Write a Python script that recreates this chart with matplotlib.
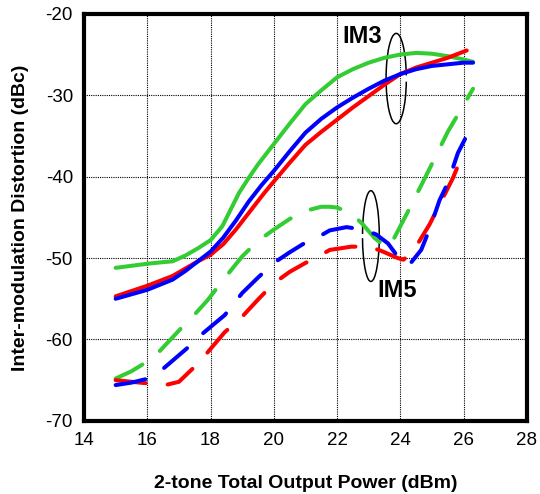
"""
Inter-modulation distortion (IM3 / IM5) versus 2-tone total output power.
Writes out.png (540x494).
"""

import matplotlib.pyplot as plt
from matplotlib.patches import Arc

plt.rcParams["font.family"] = ["Liberation Sans", "DejaVu Sans"]
plt.rcParams["axes.unicode_minus"] = False

# ---------------------------------------------------------------------------
# data (x in dBm, y in dBc)
# ---------------------------------------------------------------------------
# IM3 (solid)
im3_green_x = [15, 16, 16.5, 16.8, 17.2, 17.6, 18, 18.37, 18.5, 18.9, 19.2,
               19.5, 20, 20.5, 21, 21.5, 22, 22.5, 23, 23.5, 24, 24.5, 25,
               25.5, 26, 26.3]
im3_green = [-51.2, -50.7, -50.5, -50.4, -49.7, -48.8, -47.8, -46.1, -45.1,
             -42.0, -40.2, -38.5, -36.0, -33.5, -31.1, -29.4, -27.8, -26.8,
             -26.0, -25.4, -25.0, -24.8, -24.9, -25.2, -25.6, -25.9]

im3_blue_x = [15, 16, 16.8, 17.2, 17.6, 18, 18.4, 18.8, 19.2, 19.6, 20, 20.5,
              21, 21.5, 22, 22.5, 23, 23.5, 24, 24.5, 25, 25.5, 26, 26.3]
im3_blue = [-55.0, -53.9, -52.65, -51.6, -50.4, -49.2, -47.5, -45.4, -43.1,
            -41.1, -39.3, -36.9, -34.6, -32.9, -31.5, -30.3, -29.2, -28.2,
            -27.4, -26.8, -26.4, -26.2, -26.0, -26.0]

im3_red_x = [15, 16, 16.8, 17.2, 17.6, 18, 18.4, 18.8, 19.3, 19.7, 20, 20.5,
             21, 21.5, 22, 22.5, 23, 23.5, 24, 24.5, 25, 25.5, 26.1]
im3_red = [-54.7, -53.4, -52.2, -51.3, -50.4, -49.6, -48.3, -46.5, -44.0,
           -42.0, -40.6, -38.3, -36.1, -34.5, -33.0, -31.5, -30.1, -28.7,
           -27.4, -26.6, -26.0, -25.4, -24.5]

# IM5 (dashed)
im5_green_x = [15, 15.5, 15.92, 16.35, 17.05, 17.48, 17.9, 18.5, 19, 19.5,
               20, 20.5, 21, 21.5, 21.77, 22, 22.45, 22.8, 23.19, 23.5,
               23.65, 24.2, 24.8, 25.5, 26.3]
im5_green = [-64.8, -63.9, -62.9, -61.6, -58.7, -57.0, -55.2, -52.2, -49.8,
             -47.9, -46.5, -45.2, -44.2, -43.7, -43.7, -43.8, -44.5, -45.8,
             -47.55, -48.5, -48.7, -44.6, -40.0, -34.5, -29.2]

im5_blue_x = [15, 15.5, 16.03, 16.5, 17.25, 17.68, 18.45, 19, 19.5, 20, 20.5,
              21, 21.5, 21.77, 22.3, 22.82, 23.24, 23.61, 24.03, 24.29, 24.66,
              24.92, 25.24, 25.5, 25.82, 26.2]
im5_blue = [-65.6, -65.3, -64.8, -63.6, -61.1, -59.5, -57.0, -54.3, -52.4,
            -50.6, -49.3, -48.1, -47.2, -46.6, -46.2, -46.5, -47.1, -48.2,
            -50.4, -50.8, -49.0, -46.5, -42.9, -40.8, -37.1, -34.2]

im5_red_x = [15, 16.03, 16.57, 17.0, 17.43, 17.86, 18.45, 19, 19.5, 20, 20.5,
             21, 21.5, 21.77, 22.45, 23.03, 23.45, 23.92, 24.1, 24.4, 24.92,
             25.66, 26.03]
im5_red = [-65.0, -65.4, -65.6, -65.2, -63.6, -61.8, -59.1, -57.2, -55.1,
           -53.1, -51.7, -50.6, -49.6, -49.0, -48.6, -48.6, -49.2, -50.0,
           -50.2, -49.2, -45.9, -40.2, -36.7]

x_ticks = [14, 16, 18, 20, 22, 24, 26, 28]
y_ticks = [-70, -60, -50, -40, -30, -20]

GREEN = "#33cc33"
BLUE = "#0000ff"
RED = "#ff0000"

# ---------------------------------------------------------------------------
# plot
# ---------------------------------------------------------------------------
fig = plt.figure(figsize=(5.4, 4.94), dpi=100)
ax = fig.add_axes([0.1556, 0.148, 0.82, 0.824])

lw = 2.9
dash = dict(linestyle=(0, (7.5, 5.5)), dash_capstyle="round",
            solid_joinstyle="round", dash_joinstyle="round")
solid = dict(solid_capstyle="round", solid_joinstyle="round")

ax.plot(im5_green_x, im5_green, color=GREEN, lw=lw, **dash)
ax.plot(im5_red_x, im5_red, color=RED, lw=lw, **dash)
ax.plot(im5_blue_x, im5_blue, color=BLUE, lw=lw, **dash)

ax.plot(im3_green_x, im3_green, color=GREEN, lw=lw, **solid)
ax.plot(im3_red_x, im3_red, color=RED, lw=lw, **solid)
ax.plot(im3_blue_x, im3_blue, color=BLUE, lw=lw, **solid)

# grouping ellipses + labels
ax.add_patch(Arc((23.87, -27.95), 0.64, 11.1, theta1=50, theta2=310,
                 color="black", lw=1.1))
ax.add_patch(Arc((23.07, -47.3), 0.53, 11.15, theta1=-136, theta2=136,
                 color="black", lw=1.1))
ax.text(22.17, -23.6, "IM3", fontsize=17, fontweight="bold")
ax.text(23.29, -54.8, "IM5", fontsize=17, fontweight="bold")

ax.set_xlim(14, 28)
ax.set_ylim(-70, -20)
ax.set_xticks(x_ticks)
ax.set_yticks(y_ticks)
ax.tick_params(length=0, labelsize=13.5, pad=8)
ax.grid(True, color="black", linestyle=(0, (1, 1)), lw=0.8)
for s in ax.spines.values():
    s.set_linewidth(3)

ax.set_xlabel("2-tone Total Output Power (dBm)", fontsize=14,
              fontweight="bold", labelpad=19)
ax.set_ylabel("Inter-modulation Distortion (dBc)", fontsize=14,
              fontweight="bold", labelpad=12)

fig.savefig("out.png", dpi=100)
